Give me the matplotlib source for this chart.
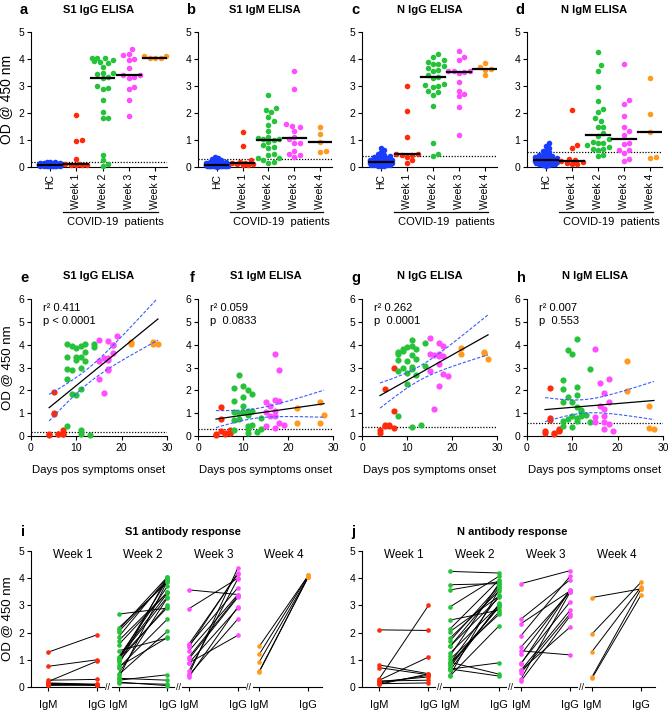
"""Antibody ELISA figure: category scatter, time regression and paired IgM/IgG panels."""

import matplotlib
matplotlib.use("Agg")
import matplotlib.pyplot as plt
import matplotlib.transforms as mtransforms
import numpy as np

plt.rcParams["font.family"] = ["Liberation Sans", "DejaVu Sans"]

# ── Data ────────────────────────────────────────────────────────────────
categories = ["HC", "Week 1", "Week 2", "Week 3", "Week 4"]
cutoffs = {"s1_igg": 0.18, "s1_igm": 0.3, "n_igg": 0.4, "n_igm": 0.55}

hc_s1_igg = [0.02, 0.03, 0.03, 0.04, 0.04, 0.04, 0.05, 0.05, 0.05, 0.05, 0.06, 0.06, 0.06, 0.06,
             0.07, 0.07, 0.07, 0.07, 0.08, 0.08, 0.08, 0.08, 0.08, 0.09, 0.09, 0.09, 0.09, 0.10,
             0.10, 0.10, 0.11, 0.11, 0.12, 0.12, 0.13, 0.13, 0.14, 0.15, 0.16, 0.17, 0.18, 0.20]
hc_s1_igm = [0.01, 0.02, 0.02, 0.03, 0.03, 0.03, 0.04, 0.04, 0.04, 0.04, 0.05, 0.05, 0.05, 0.05,
             0.06, 0.06, 0.06, 0.06, 0.07, 0.07, 0.07, 0.07, 0.08, 0.08, 0.08, 0.09, 0.09, 0.10,
             0.10, 0.11, 0.12, 0.13, 0.14, 0.15, 0.17, 0.19, 0.21, 0.24, 0.27, 0.30, 0.33, 0.36]
hc_n_igg = [0.03, 0.04, 0.05, 0.06, 0.07, 0.08, 0.08, 0.09, 0.10, 0.10, 0.11, 0.12, 0.12, 0.13,
            0.14, 0.14, 0.15, 0.16, 0.16, 0.17, 0.18, 0.18, 0.19, 0.20, 0.21, 0.22, 0.23, 0.24,
            0.25, 0.27, 0.28, 0.30, 0.32, 0.34, 0.36, 0.39, 0.42, 0.45, 0.50, 0.55, 0.62, 0.70]
hc_n_igm = [0.05, 0.07, 0.08, 0.10, 0.11, 0.12, 0.13, 0.14, 0.15, 0.16, 0.17, 0.18, 0.19, 0.20,
            0.21, 0.22, 0.23, 0.24, 0.25, 0.26, 0.26, 0.27, 0.28, 0.29, 0.30, 0.31, 0.32, 0.34,
            0.35, 0.37, 0.38, 0.40, 0.42, 0.44, 0.46, 0.50, 0.54, 0.58, 0.64, 0.70, 0.78, 0.88]

# patients, one entry per patient (same order in every list of a week)
days_w1 = [5, 5, 5, 4, 4, 6, 6, 7, 7, 7]
days_w2 = [8, 8, 8, 8, 8, 9, 9, 9, 10, 10, 10, 10, 11, 11, 11, 11, 11, 11, 12, 12, 12, 13, 14, 14]
days_w3 = [15, 15, 15, 16, 16, 17, 17, 17, 17, 17, 18, 18, 18, 19]
days_w4 = [22, 22, 27, 27, 28]

s1_igg_w1 = [1.92, 1.0, 0.95, 0.07, 0.06, 0.1, 0.08, 0.28, 0.1, 0.09]
s1_igg_w2 = [4.05, 3.48, 2.93, 2.5, 0.45, 2.9, 1.82, 3.95, 3.85, 3.48, 1.8, 3.32,
             3.92, 3.45, 3.0, 2.05, 0.25, 0.1, 4.02, 3.7, 3.28, 0.05, 4.05, 3.9]
s1_igg_w3 = [4.2, 3.3, 2.5, 3.4, 1.9, 4.15, 3.4, 3.35, 2.9, 2.95, 4.0, 3.65, 3.98, 4.38]
s1_igg_w4 = [4.1, 4.05, 4.1, 4.05, 4.05]

s1_igm_w1 = [1.28, 0.76, 0.2, 0.06, 0.1, 0.08, 0.13, 0.25, 0.15, 0.12]
s1_igm_w2 = [2.1, 1.55, 1.03, 0.7, 0.25, 2.68, 0.74, 1.0, 2.17, 1.7, 1.33, 1.05,
             2.03, 1.08, 0.93, 0.45, 0.32, 0.15, 1.84, 1.1, 0.49, 0.18, 0.81, 0.32]
s1_igm_w3 = [1.47, 1.03, 0.44, 1.33, 0.89, 1.58, 3.57, 1.1, 0.89, 0.37, 2.88, 1.53, 0.59, 0.47]
s1_igm_w4 = [1.21, 0.59, 1.5, 0.56, 0.93]

n_igg_w1 = [2.08, 0.49, 0.45, 0.25, 0.15, 0.48, 0.43, 3.0, 1.1, 0.37]
n_igg_w2 = [2.83, 3.35, 3.66, 0.89, 3.6, 3.73, 3.8, 3.0, 3.88, 2.77, 2.26, 3.3,
            4.19, 3.95, 3.54, 3.02, 2.95, 0.4, 3.83, 3.39, 2.68, 0.47, 4.08, 3.07]
n_igg_w3 = [4.28, 3.57, 2.83, 3.54, 1.18, 4.08, 3.57, 3.14, 2.21, 3.5, 3.95, 3.51, 2.7, 2.62]
n_igg_w4 = [3.61, 3.86, 3.69, 3.62, 3.39]

n_igm_w1 = [2.1, 0.81, 0.71, 0.22, 0.12, 0.1, 0.15, 0.3, 0.25, 0.2]
n_igm_w2 = [2.46, 2.04, 1.5, 0.66, 0.44, 1.7, 3.76, 0.75, 3.57, 0.88, 0.41, 1.5,
            4.25, 2.14, 1.8, 1.25, 0.81, 0.66, 1.15, 0.88, 1.03, 0.91, 2.95, 0.62]
n_igm_w3 = [3.8, 0.85, 0.62, 2.33, 1.33, 1.89, 1.2, 0.88, 0.62, 0.3, 2.5, 1.47, 0.52, 0.22]
n_igm_w4 = [3.29, 1.95, 1.3, 0.37, 0.32]

fit_stats = {
    "e": ("r\u00b2 0.411", "p < 0.0001"),
    "f": ("r\u00b2 0.059", "p  0.0833"),
    "g": ("r\u00b2 0.262", "p  0.0001"),
    "h": ("r\u00b2 0.007", "p  0.553"),
}

days = [days_w1, days_w2, days_w3, days_w4]
s1_igg = [s1_igg_w1, s1_igg_w2, s1_igg_w3, s1_igg_w4]
s1_igm = [s1_igm_w1, s1_igm_w2, s1_igm_w3, s1_igm_w4]
n_igg = [n_igg_w1, n_igg_w2, n_igg_w3, n_igg_w4]
n_igm = [n_igm_w1, n_igm_w2, n_igm_w3, n_igm_w4]

HC_COLOR = "#1a3cff"
WEEK_COLORS = ["#ff2a0a", "#25c23a", "#ff4dff", "#ff9a1f"]
CI_COLOR = "#3a5cff"
DOT = (0, (1, 1.3))

W, H = 668, 714
fig = plt.figure(figsize=(W / 100, H / 100), dpi=100)


def box(l, t, r, b):
    return [l / W, 1 - b / H, (r - l) / W, (b - t) / H]


def style(ax, labelsize=7.5):
    for s in ("top", "right"):
        ax.spines[s].set_visible(False)
    for s in ("left", "bottom"):
        ax.spines[s].set_linewidth(0.8)
    ax.tick_params(direction="out", length=3, width=0.8, labelsize=labelsize, pad=2)


def swarm(vals, ppu, d, max_w):
    """Horizontal pixel offsets so that dots of diameter d do not overlap."""
    ys = np.asarray(vals, float) * ppu
    xs = np.zeros(len(ys))
    cands = [0.0]
    k = 1
    while k * d / 2 <= max_w:
        cands += [k * d / 2, -k * d / 2]
        k += 1
    placed = []
    for i in np.argsort(ys):
        best_x, best_d = 0.0, -1
        for c in cands:
            md = min((np.hypot(c - px, ys[i] - py) for px, py in placed), default=1e9)
            if md >= d:
                best_x = c
                break
            if md > best_d:
                best_d, best_x = md, c
        xs[i] = best_x
        placed.append((best_x, ys[i]))
    return xs


def letter(x, y, s):
    fig.text(x / W, 1 - y / H, s, fontsize=10.5, fontweight="bold", ha="center", va="center")


def title(ax, y, s, dx=0):
    l, b, w, h = ax.get_position().bounds
    fig.text(l + w / 2 + dx / W, 1 - y / H, s, fontsize=8, fontweight="bold",
             ha="center", va="center")


# ── Row 1: ELISA by group ──────────────────────────────────────────────
def elisa_panel(ax, hc, weeks, cutoff):
    groups = [hc] + weeks
    colors = [HC_COLOR] + WEEK_COLORS
    for i, vals in enumerate(groups):
        vals = np.asarray(vals, float)
        d = 3.2 if i == 0 else 5.4
        offs = swarm(vals, 27, d, 12.5) / 26.3
        ax.scatter(i + offs, vals, s=16, color=colors[i], lw=0, clip_on=False, zorder=3)
        med = np.median(vals)
        ax.plot([i - 0.45, i + 0.45], [med, med], color="k", lw=1.6, zorder=4)
    ax.axhline(cutoff, color="k", lw=0.9, ls=DOT, zorder=2)
    ax.set_xlim(-0.72, 4.45)
    ax.set_ylim(0, 5)
    ax.set_xticks(range(len(categories)))
    ax.set_xticklabels(categories, rotation=90)
    style(ax)
    tr = mtransforms.blended_transform_factory(ax.transData, ax.transAxes)
    ax.plot([0.5, 4.1], [-0.333, -0.333], color="k", lw=0.9, transform=tr, clip_on=False)
    ax.text(2.5, -0.41, "COVID-19  patients", transform=tr, ha="center", va="center",
            fontsize=8)


top_boxes = [(31, 167), (198, 332), (362, 497), (527, 662)]
top_sets = [(hc_s1_igg, s1_igg, cutoffs["s1_igg"], "S1 IgG ELISA", "a"),
            (hc_s1_igm, s1_igm, cutoffs["s1_igm"], "S1 IgM ELISA", "b"),
            (hc_n_igg, n_igg, cutoffs["n_igg"], "N IgG ELISA", "c"),
            (hc_n_igm, n_igm, cutoffs["n_igm"], "N IgM ELISA", "d")]
for (l, r), (hc, wk, cut, ttl, let) in zip(top_boxes, top_sets):
    ax = fig.add_axes(box(l, 32, r, 167))
    elisa_panel(ax, hc, wk, cut)
    if let == "a":
        ax.set_ylabel("OD @ 450 nm", fontsize=10, labelpad=4)
    title(ax, 10, ttl)
    letter(l - 7, 10, let)


# ── Row 2: OD versus days since symptom onset ──────────────────────────
def days_panel(ax, vals, cutoff, stats):
    for d, v, c in zip(days, vals, WEEK_COLORS):
        ax.scatter(d, v, s=20, color=c, lw=0, clip_on=False, zorder=3)
    x = np.concatenate([np.asarray(d, float) for d in days])
    y = np.concatenate([np.asarray(v, float) for v in vals])
    b, a = np.polyfit(x, y, 1)
    n = len(x)
    resid = y - (a + b * x)
    s = np.sqrt(np.sum(resid ** 2) / (n - 2))
    sxx = np.sum((x - x.mean()) ** 2)
    xs = np.linspace(x.min(), x.max(), 100)
    yh = a + b * xs
    se = s * np.sqrt(1 / n + (xs - x.mean()) ** 2 / sxx)
    ax.plot(xs, yh, color="k", lw=0.9, zorder=4)
    ax.plot(xs, yh + 2.008 * se, color=CI_COLOR, lw=0.8, ls=(0, (3, 1.5)), zorder=4)
    ax.plot(xs, yh - 2.008 * se, color=CI_COLOR, lw=0.8, ls=(0, (3, 1.5)), zorder=4)
    ax.axhline(cutoff, color="k", lw=0.9, ls=DOT, zorder=2)
    ax.set_xlim(0, 30)
    ax.set_ylim(0, 6)
    ax.set_xticks([0, 10, 20, 30])
    ax.set_yticks(range(7))
    style(ax)
    ax.set_xlabel("Days pos symptoms onset", fontsize=8.2, labelpad=9)
    ax.text(0.09, 0.935, stats[0], transform=ax.transAxes, fontsize=8, va="center")
    ax.text(0.09, 0.84, stats[1], transform=ax.transAxes, fontsize=8, va="center")


mid_boxes = [(31, 167), (198, 333), (362, 497), (527, 663)]
mid_sets = [(s1_igg, cutoffs["s1_igg"], "S1 IgG ELISA", "e"),
            (s1_igm, cutoffs["s1_igm"], "S1 IgM ELISA", "f"),
            (n_igg, cutoffs["n_igg"], "N IgG ELISA", "g"),
            (n_igm, cutoffs["n_igm"], "N IgM ELISA", "h")]
for (l, r), (vals, cut, ttl, let) in zip(mid_boxes, mid_sets):
    ax = fig.add_axes(box(l, 299, r, 436))
    days_panel(ax, vals, cut, fit_stats[let])
    if let == "e":
        ax.set_ylabel("OD @ 450 nm", fontsize=9.5, labelpad=4)
    title(ax, 276, ttl)
    letter(l - 6, 278, let)


# ── Row 3: paired IgM / IgG per week ────────────────────────────────────
def pair_panel(ax, igm, igg):
    gap = 1.44
    ticks = []
    for k, (m, g, c) in enumerate(zip(igm, igg, WEEK_COLORS)):
        x0 = k * gap
        for a, b in zip(m, g):
            ax.plot([x0, x0 + 1], [a, b], color="k", lw=0.7, zorder=2)
        ax.scatter(np.full(len(m), x0), m, s=11, color=c, lw=0, clip_on=False, zorder=3)
        ax.scatter(np.full(len(g), x0 + 1), g, s=11, color=c, lw=0, clip_on=False, zorder=3)
        ax.text(x0 + 0.5, 4.85, f"Week {k + 1}", ha="center", va="center", fontsize=8.5)
        ticks += [x0, x0 + 1]
    xmin, xmax = -0.35, 5.6
    ax.set_xlim(xmin, xmax)
    ax.set_ylim(0, 5)
    ax.set_xticks(ticks)
    ax.set_xticklabels(["IgM", "IgG"] * len(igm))
    style(ax)
    ax.tick_params(axis="x", labelsize=8, pad=6)
    ax.spines["bottom"].set_visible(False)
    tr = mtransforms.blended_transform_factory(ax.transData, ax.transAxes)
    breaks = [(k * gap + 1 + (k + 1) * gap) / 2 for k in range(len(igm) - 1)]
    edges = [xmin] + [e for br in breaks for e in (br - 0.08, br + 0.08)] + [xmax]
    for lo, hi in zip(edges[::2], edges[1::2]):
        ax.plot([lo, hi], [0, 0], color="k", lw=0.8, transform=tr, clip_on=False)
    for br in breaks:
        ax.text(br, 0, "//", transform=tr, ha="center", va="center", fontsize=6.5)


ax = fig.add_axes(box(31, 551, 322, 687))
pair_panel(ax, s1_igm, s1_igg)
ax.set_ylabel("OD @ 450 nm", fontsize=9.5, labelpad=4)
title(ax, 532, "S1 antibody response", dx=6)
letter(23, 532, "i")

ax = fig.add_axes(box(362, 551, 655, 687))
pair_panel(ax, n_igm, n_igg)
title(ax, 532, "N antibody response", dx=4)
letter(353, 532, "j")

fig.savefig("out.png", dpi=100)
